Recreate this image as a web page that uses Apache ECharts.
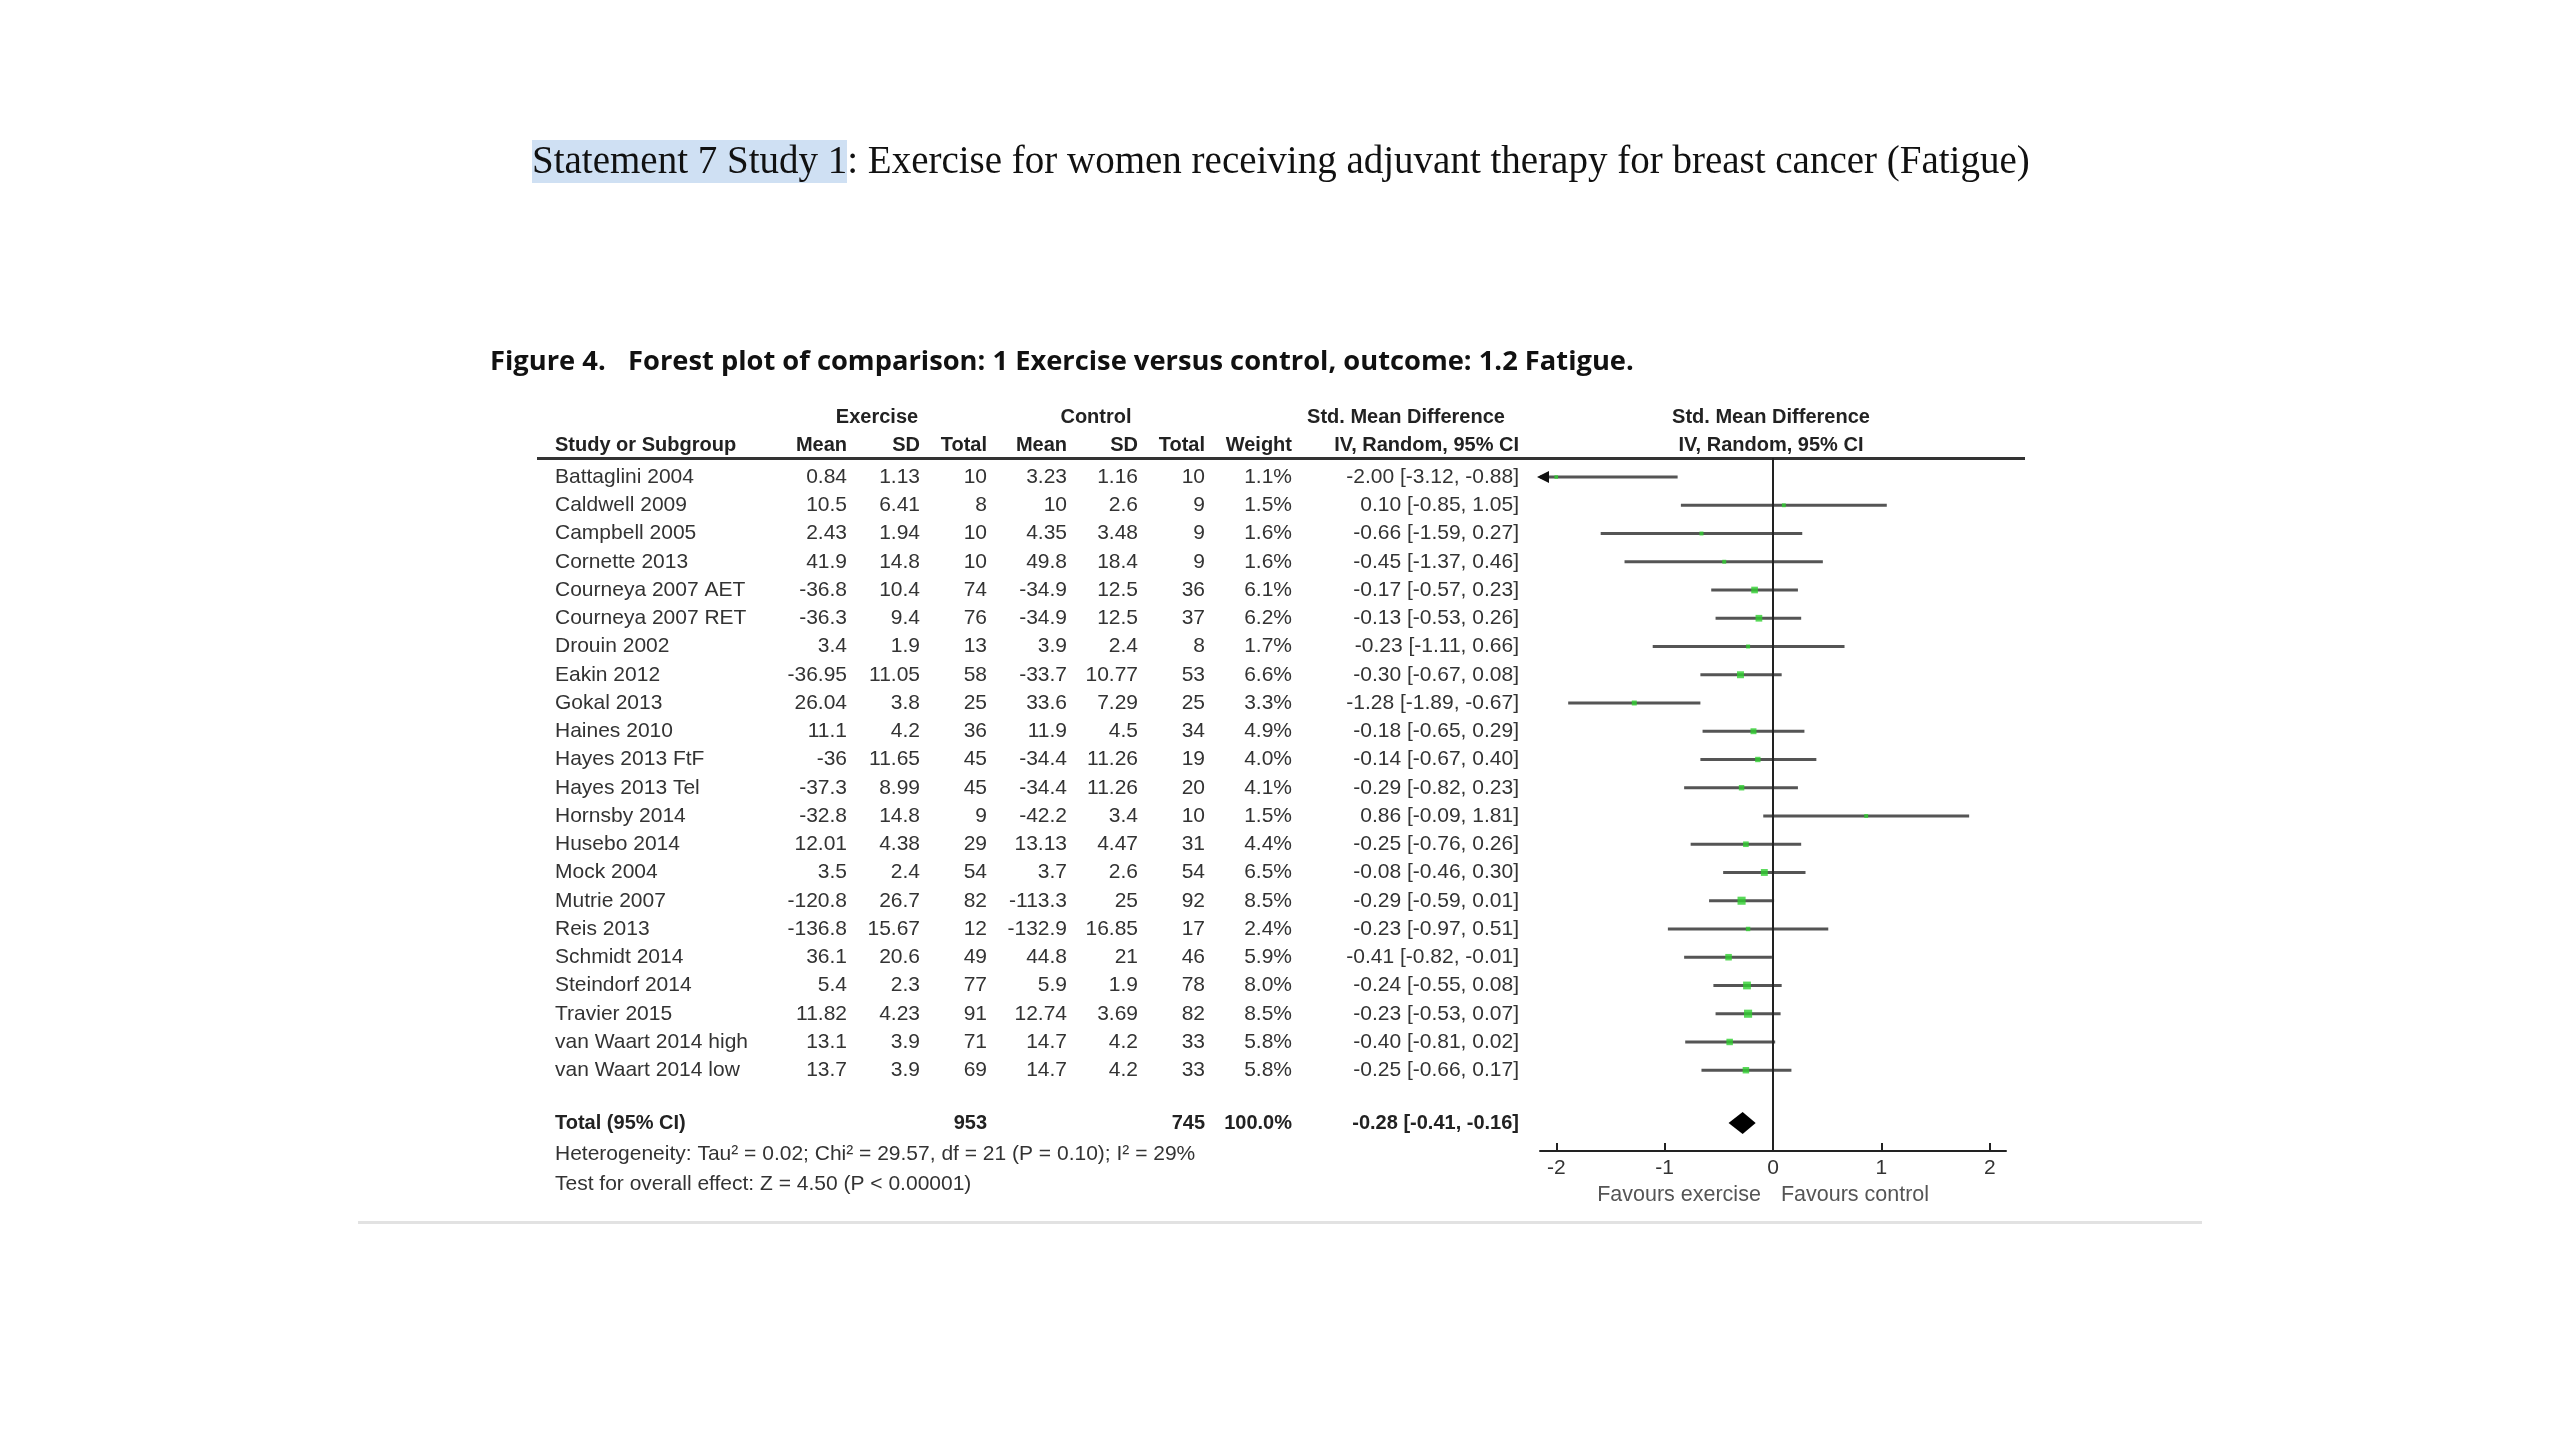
<!DOCTYPE html>
<html>
<head>
<meta charset="utf-8">
<style>
  html, body { margin: 0; padding: 0; background: #ffffff; }
  #chart { width: 2560px; height: 1440px; }
</style>
<script src="https://cdn.jsdelivr.net/npm/echarts@6/dist/echarts.min.js"></script>
</head>
<body>
<div id="chart"></div>
<script>
// ---------------- DATA ----------------
var studies = ["Battaglini 2004", "Caldwell 2009", "Campbell 2005", "Cornette 2013", "Courneya 2007 AET",
  "Courneya 2007 RET", "Drouin 2002", "Eakin 2012", "Gokal 2013", "Haines 2010", "Hayes 2013 FtF",
  "Hayes 2013 Tel", "Hornsby 2014", "Husebo 2014", "Mock 2004", "Mutrie 2007", "Reis 2013",
  "Schmidt 2014", "Steindorf 2014", "Travier 2015", "van Waart 2014 high", "van Waart 2014 low"];
var exMean = [0.84, 10.5, 2.43, 41.9, -36.8, -36.3, 3.4, -36.95, 26.04, 11.1, -36, -37.3, -32.8, 12.01, 3.5, -120.8, -136.8, 36.1, 5.4, 11.82, 13.1, 13.7];
var exSD = [1.13, 6.41, 1.94, 14.8, 10.4, 9.4, 1.9, 11.05, 3.8, 4.2, 11.65, 8.99, 14.8, 4.38, 2.4, 26.7, 15.67, 20.6, 2.3, 4.23, 3.9, 3.9];
var exN = [10, 8, 10, 10, 74, 76, 13, 58, 25, 36, 45, 45, 9, 29, 54, 82, 12, 49, 77, 91, 71, 69];
var ctMean = [3.23, 10, 4.35, 49.8, -34.9, -34.9, 3.9, -33.7, 33.6, 11.9, -34.4, -34.4, -42.2, 13.13, 3.7, -113.3, -132.9, 44.8, 5.9, 12.74, 14.7, 14.7];
var ctSD = [1.16, 2.6, 3.48, 18.4, 12.5, 12.5, 2.4, 10.77, 7.29, 4.5, 11.26, 11.26, 3.4, 4.47, 2.6, 25, 16.85, 21, 1.9, 3.69, 4.2, 4.2];
var ctN = [10, 9, 9, 9, 36, 37, 8, 53, 25, 34, 19, 20, 10, 31, 54, 92, 17, 46, 78, 82, 33, 33];
var weight = [1.1, 1.5, 1.6, 1.6, 6.1, 6.2, 1.7, 6.6, 3.3, 4.9, 4.0, 4.1, 1.5, 4.4, 6.5, 8.5, 2.4, 5.9, 8.0, 8.5, 5.8, 5.8];
var smd = [-2.00, 0.10, -0.66, -0.45, -0.17, -0.13, -0.23, -0.30, -1.28, -0.18, -0.14, -0.29, 0.86, -0.25, -0.08, -0.29, -0.23, -0.41, -0.24, -0.23, -0.40, -0.25];
var ciLow = [-3.12, -0.85, -1.59, -1.37, -0.57, -0.53, -1.11, -0.67, -1.89, -0.65, -0.67, -0.82, -0.09, -0.76, -0.46, -0.59, -0.97, -0.82, -0.55, -0.53, -0.81, -0.66];
var ciHigh = [-0.88, 1.05, 0.27, 0.46, 0.23, 0.26, 0.66, 0.08, -0.67, 0.29, 0.40, 0.23, 1.81, 0.26, 0.30, 0.01, 0.51, -0.01, 0.08, 0.07, 0.02, 0.17];
var totalExN = 953;
var totalCtN = 745;
var totalWeight = 100.0;
var totalSmd = -0.28;
var totalLow = -0.41;
var totalHigh = -0.16;
var axisTicks = [-2, -1, 0, 1, 2];
var heterogeneityText = "Heterogeneity: Tau\u00b2 = 0.02; Chi\u00b2 = 29.57, df = 21 (P = 0.10); I\u00b2 = 29%";
var overallText = "Test for overall effect: Z = 4.50 (P < 0.00001)";
var titleHighlight = "Statement 7 Study 1";
var titleRest = ": Exercise for women receiving adjuvant therapy for breast cancer (Fatigue)";
var figLabel = "Figure 4.";
var figTitle = "Forest plot of comparison: 1 Exercise versus control, outcome: 1.2 Fatigue.";
var favLeft = "Favours exercise";
var favRight = "Favours control";

// ---------------- LAYOUT ----------------
var SANS = '"Liberation Sans", Arial, sans-serif';
var ROW_FONT = '21px ' + SANS;
var BOLD_FONT = 'bold 20px ' + SANS;
var FIG_FONT = 'bold 27.3px "Open Sans", Lato, sans-serif';
var TEXT_COLOR = '#333';
// column anchors (x pixel, alignment)
var cols = [
  { x: 555, align: 'left' },   // study
  { x: 847, align: 'right' },  // ex mean
  { x: 920, align: 'right' },  // ex sd
  { x: 987, align: 'right' },  // ex total
  { x: 1067, align: 'right' }, // ct mean
  { x: 1138, align: 'right' }, // ct sd
  { x: 1205, align: 'right' }, // ct total
  { x: 1292, align: 'right' }, // weight
  { x: 1519, align: 'right' }  // CI
];
var totalRowPos = studies.length + 0.87;

function fmt2(v) { return v.toFixed(2); }
function ciText(e, l, h) { return fmt2(e) + ' [' + fmt2(l) + ', ' + fmt2(h) + ']'; }

var chart = echarts.init(document.getElementById('chart'), null, { renderer: 'canvas' });

var tableData = studies.map(function (s, i) { return [0, i]; });
tableData.push([0, totalRowPos]);

var ciData = studies.map(function (s, i) { return [ciLow[i], ciHigh[i], i]; });
var pointData = studies.map(function (s, i) { return [smd[i], i, weight[i]]; });

function headerText(x, y, text, align) {
  return { type: 'text', x: x, y: y, style: { text: text, font: BOLD_FONT, fill: '#222', align: align, verticalAlign: 'middle' } };
}

var option = {
  backgroundColor: '#ffffff',
  animation: false,
  grid: { left: 1540, top: 458, width: 466, height: 693, containLabel: false },
  xAxis: {
    type: 'value', min: -2.15, max: 2.15,
    splitLine: { show: false },
    axisLine: { show: true, onZero: false, lineStyle: { color: '#222', width: 2 } },
    axisTick: { show: true, length: 8, inside: true, customValues: axisTicks, lineStyle: { color: '#222', width: 2 } },
    axisLabel: { customValues: axisTicks, color: '#333', fontSize: 21, fontFamily: SANS, margin: 7,
      formatter: function (v) { return String(v); } }
  },
  yAxis: { type: 'value', inverse: true, min: -0.673, max: 23.86, show: false },
  series: [
    {
      type: 'custom', name: 'table', clip: false, silent: true,
      data: tableData,
      encode: { x: 0, y: 1 },
      renderItem: function (params, api) {
        var i = params.dataIndex;
        var y = api.coord([0, api.value(1)])[1];
        var texts, font, fill;
        if (i < studies.length) {
          texts = [studies[i], String(exMean[i]), String(exSD[i]), String(exN[i]), String(ctMean[i]),
            String(ctSD[i]), String(ctN[i]), weight[i].toFixed(1) + '%', ciText(smd[i], ciLow[i], ciHigh[i])];
          font = ROW_FONT; fill = TEXT_COLOR;
        } else {
          texts = ['Total (95% CI)', '', '', String(totalExN), '', '', String(totalCtN),
            totalWeight.toFixed(1) + '%', ciText(totalSmd, totalLow, totalHigh)];
          font = BOLD_FONT; fill = '#222';
        }
        var children = [];
        texts.forEach(function (t, c) {
          if (!t) return;
          children.push({ type: 'text', x: cols[c].x, y: y,
            style: { text: t, font: font, fill: fill, align: cols[c].align, verticalAlign: 'middle' } });
        });
        return { type: 'group', children: children };
      },
      z: 5
    },
    {
      type: 'custom', name: 'ci', clip: false, silent: true,
      data: ciData,
      encode: { x: [0, 1], y: 2 },
      renderItem: function (params, api) {
        var lo = api.value(0), hi = api.value(1), row = api.value(2);
        var cs = params.coordSys;
        var p1 = api.coord([lo, row]), p2 = api.coord([hi, row]);
        var xmin = cs.x, xmax = cs.x + cs.width;
        var x1 = Math.max(p1[0], xmin), x2 = Math.min(p2[0], xmax);
        var y = p1[1];
        var ch = [{ type: 'line', shape: { x1: x1, y1: y, x2: x2, y2: y }, style: { stroke: '#555', lineWidth: 3 } }];
        if (p1[0] < xmin) {
          ch.push({ type: 'polygon', shape: { points: [[xmin - 3, y], [xmin + 9, y - 6], [xmin + 9, y + 6]] }, style: { fill: '#111' } });
        }
        if (p2[0] > xmax) {
          ch.push({ type: 'polygon', shape: { points: [[xmax + 3, y], [xmax - 9, y - 6], [xmax - 9, y + 6]] }, style: { fill: '#111' } });
        }
        return { type: 'group', children: ch };
      },
      z: 3
    },
    {
      type: 'scatter', name: 'smd', silent: true,
      data: pointData,
      symbol: 'rect',
      symbolSize: function (v) { return 3 + v[2] * 0.6; },
      itemStyle: { color: '#2fcf2f' },
      z: 4,
      markLine: {
        silent: true, symbol: 'none', label: { show: false },
        lineStyle: { color: '#222', width: 2, type: 'solid' },
        data: [{ xAxis: 0 }]
      }
    },
    {
      type: 'custom', name: 'total', clip: false, silent: true,
      data: [[totalLow, totalSmd, totalHigh, totalRowPos]],
      encode: { x: [0, 1, 2], y: 3 },
      renderItem: function (params, api) {
        var row = api.value(3);
        var pl = api.coord([api.value(0), row]);
        var pe = api.coord([api.value(1), row]);
        var ph = api.coord([api.value(2), row]);
        var h = 11;
        return { type: 'polygon', shape: { points: [[pl[0], pl[1]], [pe[0], pe[1] - h], [ph[0], ph[1]], [pe[0], pe[1] + h]] },
          style: { fill: '#000' } };
      },
      z: 6
    }
  ],
  graphic: [
    { type: 'rect', shape: { x: 532, y: 140, width: 315, height: 43 }, style: { fill: '#cfe0f3' }, z: 0 },
    { type: 'text', x: 532, y: 163, style: { text: titleHighlight + titleRest, font: '39px "Liberation Serif", "Times New Roman", serif', fill: '#111', verticalAlign: 'middle' }, z: 1 },
    { type: 'text', x: 490, y: 362, style: { text: figLabel, font: FIG_FONT, fill: '#111', verticalAlign: 'middle' } },
    { type: 'text', x: 628, y: 362, style: { text: figTitle, font: FIG_FONT, fill: '#111', verticalAlign: 'middle' } },
    headerText(877, 417, 'Exercise', 'center'),
    headerText(1096, 417, 'Control', 'center'),
    headerText(1406, 417, 'Std. Mean Difference', 'center'),
    headerText(1771, 417, 'Std. Mean Difference', 'center'),
    headerText(555, 445, 'Study or Subgroup', 'left'),
    headerText(847, 445, 'Mean', 'right'),
    headerText(920, 445, 'SD', 'right'),
    headerText(987, 445, 'Total', 'right'),
    headerText(1067, 445, 'Mean', 'right'),
    headerText(1138, 445, 'SD', 'right'),
    headerText(1205, 445, 'Total', 'right'),
    headerText(1292, 445, 'Weight', 'right'),
    headerText(1519, 445, 'IV, Random, 95% CI', 'right'),
    headerText(1771, 445, 'IV, Random, 95% CI', 'center'),
    { type: 'rect', shape: { x: 537, y: 457, width: 1488, height: 3 }, style: { fill: '#333' } },
    { type: 'text', x: 555, y: 1154, style: { text: heterogeneityText, font: '21px ' + SANS, fill: TEXT_COLOR, verticalAlign: 'middle' } },
    { type: 'text', x: 555, y: 1184, style: { text: overallText, font: '21px ' + SANS, fill: TEXT_COLOR, verticalAlign: 'middle' } },
    { type: 'text', x: 1679, y: 1195, style: { text: favLeft, font: '21.5px ' + SANS, fill: '#555', align: 'center', verticalAlign: 'middle' } },
    { type: 'text', x: 1855, y: 1195, style: { text: favRight, font: '21.5px ' + SANS, fill: '#555', align: 'center', verticalAlign: 'middle' } },
    { type: 'rect', shape: { x: 358, y: 1221, width: 1844, height: 3 }, style: { fill: '#e2e2e2' } }
  ]
};
chart.setOption(option);
</script>
</body>
</html>
